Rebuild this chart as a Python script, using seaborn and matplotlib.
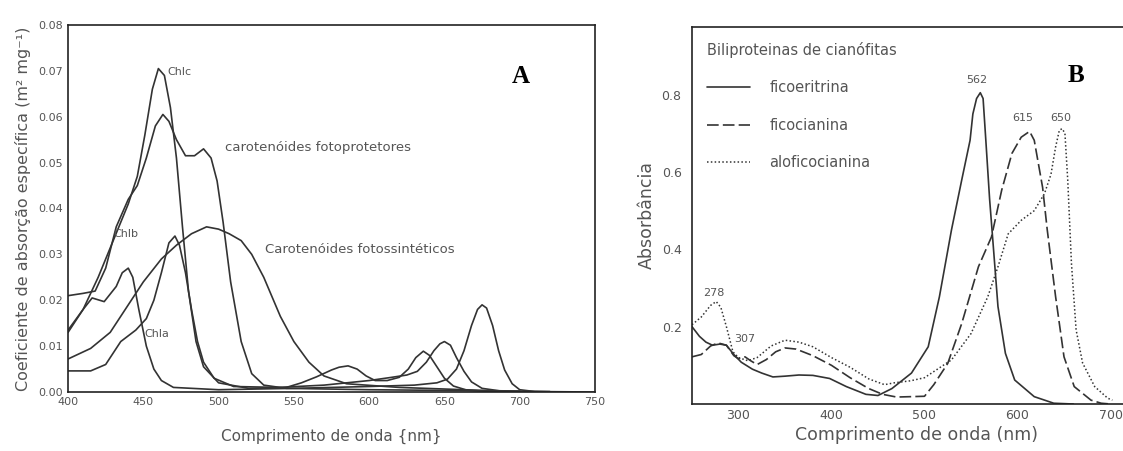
import matplotlib
matplotlib.use("Agg")
import matplotlib.pyplot as plt
import seaborn as sns
import numpy as np

# ---- Panel A: coeficientes de absorcao especifica ----
wl_chla = [400, 410, 416, 424, 432, 436, 440, 443, 447, 452, 457, 462, 470, 500, 550,
           600, 630, 645, 652, 658, 663, 668, 672, 675, 678, 682, 686, 690, 695, 700, 710, 750]
chla = [0.013, 0.018, 0.0205, 0.0197, 0.023, 0.026, 0.027, 0.025, 0.018, 0.010, 0.005,
        0.0025, 0.001, 0.0005, 0.0008, 0.0012, 0.0015, 0.002, 0.0028, 0.005, 0.009, 0.0145,
        0.018, 0.019, 0.0183, 0.0145, 0.009, 0.0048, 0.0018, 0.0005, 0.0001, 0.0]

wl_chlb = [400, 415, 425, 435, 445, 452, 457, 462, 467, 471, 474, 478, 482, 486, 490, 497,
           510, 540, 570, 600, 615, 625, 632, 638, 643, 647, 650, 654, 658, 663, 668, 675, 690]
chlb = [0.0046, 0.0046, 0.006, 0.011, 0.0135, 0.016, 0.020, 0.026, 0.0325, 0.034, 0.032,
        0.026, 0.018, 0.011, 0.0065, 0.003, 0.0012, 0.001, 0.0015, 0.0025, 0.0032, 0.0037,
        0.0045, 0.0065, 0.009, 0.0105, 0.011, 0.0102, 0.0075, 0.0045, 0.0022, 0.0008, 0.0001]

wl_chlc = [400, 410, 420, 430, 440, 446, 451, 456, 460, 464, 468, 472, 476, 480, 485, 490,
           500, 520, 545, 555, 565, 575, 580, 586, 592, 598, 604, 612, 620, 626, 631, 636,
           640, 645, 650, 656, 665, 680, 700]
chlc = [0.0135, 0.018, 0.025, 0.033, 0.041, 0.047, 0.056, 0.066, 0.0705, 0.069, 0.062,
        0.051, 0.036, 0.022, 0.011, 0.0055, 0.002, 0.0008, 0.001, 0.002, 0.0033, 0.0048,
        0.0054, 0.0057, 0.005, 0.0035, 0.0025, 0.0025, 0.0032, 0.005, 0.0075, 0.0089,
        0.008, 0.0055, 0.003, 0.0013, 0.0004, 0.0001, 0.0]

wl_fotoprot = [400, 410, 418, 425, 432, 440, 446, 452, 458, 463, 467, 472, 478, 484, 490,
               495, 499, 503, 508, 515, 522, 530, 545, 600, 700]
fotoprot = [0.021, 0.0215, 0.022, 0.027, 0.036, 0.042, 0.045, 0.051, 0.058, 0.0605, 0.059,
            0.055, 0.0515, 0.0515, 0.053, 0.051, 0.046, 0.037, 0.024, 0.011, 0.004, 0.0015,
            0.0008, 0.0005, 0.0002]

wl_fotossint = [400, 415, 428, 440, 450, 462, 472, 482, 492, 500, 507, 515, 522, 530, 541,
                550, 560, 570, 585, 620, 680, 720]
fotossint = [0.0072, 0.0095, 0.013, 0.019, 0.024, 0.029, 0.032, 0.0345, 0.036, 0.0355,
             0.0345, 0.033, 0.030, 0.025, 0.0165, 0.011, 0.0065, 0.0035, 0.0018, 0.001,
             0.0003, 0.0001]

# ---- Panel B: biliproteinas de cianofitas ----
wl_ficoer = [250, 258, 265, 272, 280, 287, 295, 303, 315, 325, 337, 350, 365, 380, 398, 416,
             437, 450, 465, 486, 504, 516, 529, 540, 549, 552, 556, 560, 563, 566, 570, 574,
             579, 587, 597, 618, 639, 660]
ficoer = [0.20, 0.175, 0.16, 0.152, 0.155, 0.152, 0.128, 0.108, 0.09, 0.08, 0.07, 0.072,
          0.075, 0.074, 0.066, 0.045, 0.025, 0.022, 0.04, 0.08, 0.148, 0.277, 0.45, 0.579,
          0.682, 0.75, 0.79, 0.805, 0.79, 0.68, 0.53, 0.407, 0.252, 0.131, 0.062, 0.019,
          0.002, 0.0]

wl_ficocian = [250, 260, 270, 278, 287, 295, 300, 307, 313, 320, 330, 340, 350, 362, 380,
               400, 420, 440, 455, 470, 500, 510, 525, 540, 558, 572, 583, 594, 604, 613,
               618, 627, 632, 641, 650, 661, 679, 690, 700]
ficocian = [0.122, 0.128, 0.15, 0.158, 0.152, 0.125, 0.117, 0.122, 0.112, 0.102, 0.115,
            0.135, 0.145, 0.142, 0.125, 0.10, 0.068, 0.04, 0.025, 0.018, 0.02, 0.05, 0.105,
            0.208, 0.355, 0.432, 0.553, 0.648, 0.69, 0.705, 0.682, 0.56, 0.45, 0.277, 0.122,
            0.045, 0.01, 0.002, 0.0]

wl_aloficocian = [250, 260, 270, 276, 281, 287, 294, 300, 310, 320, 335, 350, 365, 380, 400,
                  420, 440, 457, 468, 485, 500, 529, 550, 568, 579, 590, 604, 618, 629, 636,
                  641, 645, 648, 651, 654, 658, 663, 670, 683, 697, 702]
aloficocian = [0.205, 0.225, 0.255, 0.265, 0.25, 0.20, 0.135, 0.12, 0.112, 0.12, 0.15,
               0.165, 0.16, 0.148, 0.12, 0.095, 0.065, 0.05, 0.055, 0.06, 0.068, 0.114,
               0.182, 0.277, 0.355, 0.44, 0.475, 0.50, 0.544, 0.594, 0.665, 0.708, 0.712,
               0.70, 0.58, 0.364, 0.192, 0.106, 0.045, 0.015, 0.01]

peak_labels_B = ["278", "307", "562", "615", "650"]
peak_pos_B = [(273, 0.287), (307, 0.168), (556, 0.837), (606, 0.74), (647, 0.74)]

LINE = "#333333"
TXT = "#555555"

sns.set_style("white")
plt.rcParams["font.family"] = ["DejaVu Sans"]
plt.rcParams["axes.edgecolor"] = "#222222"

fig = plt.figure(figsize=(11.23, 4.51), dpi=100)
axA = fig.add_axes([0.0606, 0.1308, 0.4692, 0.8138])
axB = fig.add_axes([0.6162, 0.1042, 0.40, 0.836])

# Panel A
for x, y in [(wl_chla, chla), (wl_chlb, chlb), (wl_chlc, chlc),
             (wl_fotoprot, fotoprot), (wl_fotossint, fotossint)]:
    sns.lineplot(x=x, y=y, ax=axA, color=LINE, linewidth=1.2)

axA.set_xlim(400, 750)
axA.set_ylim(0, 0.08)
axA.set_xticks(np.arange(400, 751, 50))
axA.set_yticks(np.arange(0, 0.0801, 0.01))
axA.set_yticklabels([f"{v:.2f}" for v in np.arange(0, 0.0801, 0.01)])
axA.tick_params(direction="in", length=4, labelsize=8, labelcolor=TXT, color="#222222")
axA.set_xlabel("Comprimento de onda {nm}", fontsize=11, color=TXT, labelpad=16)
axA.set_ylabel("Coeficiente de absorção específica (m² mg⁻¹)", fontsize=11.5,
               color=TXT, labelpad=5)
for s in axA.spines.values():
    s.set_linewidth(1.2)

axA.text(466, 0.0697, "Chlc", fontsize=8, color=TXT, va="center")
axA.text(447, 0.0345, "Chlb", fontsize=8, color=TXT, va="center", ha="right")
axA.text(451, 0.0126, "Chla", fontsize=8, color=TXT, va="center")
axA.text(504, 0.0533, "carotenóides fotoprotetores", fontsize=9.5, color=TXT, va="center")
axA.text(531, 0.031, "Carotenóides fotossintéticos", fontsize=9.5, color=TXT, va="center")
axA.text(0.86, 0.86, "A", transform=axA.transAxes, fontsize=18, fontweight="bold",
         family="Liberation Serif", ha="center", va="center", color="black")

# Panel B
sns.lineplot(x=wl_ficoer, y=ficoer, ax=axB, color=LINE, linewidth=1.2,
             linestyle="-", label="ficoeritrina")
sns.lineplot(x=wl_ficocian, y=ficocian, ax=axB, color=LINE, linewidth=1.2,
             linestyle=(0, (7, 2.5)), label="ficocianina")
sns.lineplot(x=wl_aloficocian, y=aloficocian, ax=axB, color=LINE, linewidth=1.1,
             linestyle=(0, (1, 1.5)), label="aloficocianina")

axB.set_xlim(250, 733)
axB.set_ylim(0, 0.975)
axB.set_xticks(np.arange(300, 701, 100))
axB.set_xticks(np.arange(350, 701, 100), minor=True)
axB.set_yticks([0.2, 0.4, 0.6, 0.8])
axB.set_yticklabels(["0.2", "0.4", "0.6", "0.8"])
axB.set_yticks([0.1, 0.3, 0.5, 0.7], minor=True)
axB.tick_params(axis="x", which="both", direction="in", length=6, labelsize=9,
                labelcolor=TXT, color="#222222")
axB.tick_params(axis="y", which="both", direction="inout", length=8, labelsize=9,
                labelcolor=TXT, color="#222222")
axB.set_xlabel("Comprimento de onda (nm)", fontsize=12.5, color=TXT, labelpad=3)
axB.set_ylabel("Absorbância", fontsize=12.5, color=TXT, labelpad=4)
for s in axB.spines.values():
    s.set_linewidth(1.2)

for txt, (px, py) in zip(peak_labels_B, peak_pos_B):
    axB.text(px, py, txt, fontsize=8, color=TXT, ha="center", va="center")

leg = axB.legend(title="Biliproteinas de cianófitas", loc="upper left", frameon=False,
                 fontsize=10.5, title_fontsize=10.5, handlelength=3.0, handletextpad=1.3,
                 labelspacing=1.55, borderaxespad=0.6, alignment="left")
for t in leg.get_texts():
    t.set_color(TXT)
leg.get_title().set_color(TXT)
axB.text(0.855, 0.87, "B", transform=axB.transAxes, fontsize=18, fontweight="bold",
         family="Liberation Serif", ha="center", va="center", color="black")

fig.savefig("out.png", dpi=100)
